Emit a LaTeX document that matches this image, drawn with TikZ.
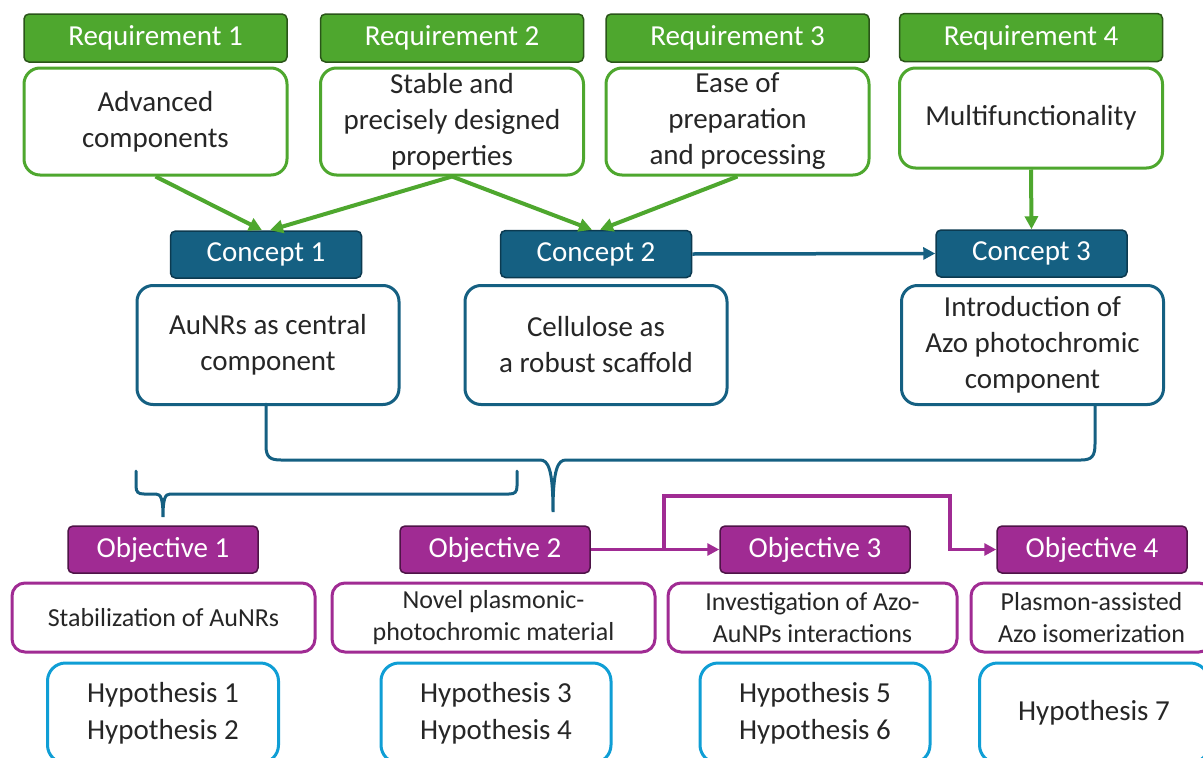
\documentclass[tikz,border=0pt]{standalone}
\usepackage{fontspec}
\setmainfont{Carlito}
\usetikzlibrary{arrows.meta}
\definecolor{reqgreen}{HTML}{4EA72E}
\definecolor{reqdark}{HTML}{2A5519}
\definecolor{conblue}{HTML}{156082}
\definecolor{condark}{HTML}{0C3A50}
\definecolor{objpurple}{HTML}{A02B93}
\definecolor{objdark}{HTML}{4E1447}
\definecolor{hypblue}{HTML}{0F9ED5}
\definecolor{txtgray}{HTML}{262626}
\tikzset{
  head/.style={rounded corners=5pt, line width=1.5pt, text=white, inner sep=0pt,
    minimum height=47pt, font=\fontsize{29}{36}\selectfont},
  reqhead/.style={head, fill=reqgreen, draw=reqdark, minimum width=263pt, minimum height=48pt},
  conhead/.style={head, fill=conblue, draw=condark, minimum width=191pt},
  objhead/.style={head, fill=objpurple, draw=objdark, minimum width=190pt},
  textbox/.style={rounded corners=16pt, line width=3pt, fill=white, inner sep=0pt, align=center,
    text=txtgray, font=\fontsize{29}{36}\selectfont},
  reqbox/.style={textbox, draw=reqgreen, minimum width=263pt, minimum height=107pt},
  conbox/.style={textbox, draw=conblue, minimum width=262pt, minimum height=119pt},
  objbox/.style={textbox, draw=objpurple, rounded corners=13pt, minimum height=69pt,
    font=\fontsize{26}{32}\selectfont},
  hypbox/.style={textbox, draw=hypblue, rounded corners=18pt, minimum height=100pt,
    font=\fontsize{29}{37}\selectfont},
  reqarrow/.style={draw=reqgreen, line width=4pt, -{Triangle[length=13pt,width=13pt]}},
  conarrow/.style={draw=conblue, line width=3.5pt, -{Triangle[length=12pt,width=12pt]}},
  objarrow/.style={draw=objpurple, line width=3.5pt, -{Triangle[length=12pt,width=12pt]}},
  brace/.style={draw=conblue, line width=3pt, line cap=round}
}
\begin{document}
\begin{tikzpicture}[x=1pt,y=-1pt]
\useasboundingbox (0,0) rectangle (1203,758);
\clip (0,0) rectangle (1203,758);

\node[reqhead] (r1) at (155.5,38) {Requirement 1};
\node[reqhead] (r2) at (452,38) {Requirement 2};
\node[reqhead] (r3) at (737.5,38) {Requirement 3};
\node[reqhead] (r4) at (1031,37.5) {Requirement 4};
\node[reqbox] (r1box) at (155.5,121.5) {Advanced\\components};
\node[reqbox] (r2box) at (452,121.5) {Stable and\\precisely designed\\properties};
\node[reqbox] (r3box) at (737.5,121.5) {Ease of\\preparation\\and processing};
\node[reqbox, minimum height=100pt] (r4box) at (1031,118) {Multifunctionality};

\node[conhead] (c1) at (266,254.5) {Concept 1};
\node[conhead] (c2) at (596,254) {Concept 2};
\node[conhead] (c3) at (1031.5,253.5) {Concept 3};
\node[conbox] (c1box) at (268,345) {AuNRs as central\\component};
\node[conbox] (c2box) at (596,345) {Cellulose as\\a robust scaffold};
\node[conbox] (c3box) at (1032.5,345) {Introduction of\\Azo photochromic\\component};

\node[objhead] (o1) at (163,549.5) {Objective 1};
\node[objhead] (o2) at (495,549.5) {Objective 2};
\node[objhead] (o3) at (815,549.5) {Objective 3};
\node[objhead] (o4) at (1092,549.5) {Objective 4};
\node[objbox, minimum width=303pt] (o1box) at (163.5,617.5) {Stabilization of AuNRs};
\node[objbox, minimum width=323pt] (o2box) at (493.5,617.5) {Novel plasmonic-\\photochromic material};
\node[objbox, minimum width=289pt] (o3box) at (812.5,617.5) {Investigation of Azo-\\AuNPs interactions};
\node[objbox, minimum width=241pt] (o4box) at (1091.5,617.5) {Plasmon-assisted\\Azo isomerization};

\node[hypbox, minimum width=231pt] (h1) at (163,713) {Hypothesis 1\\Hypothesis 2};
\node[hypbox, minimum width=230pt] (h2) at (496,713) {Hypothesis 3\\Hypothesis 4};
\node[hypbox, minimum width=230pt] (h3) at (815,713) {Hypothesis 5\\Hypothesis 6};
\node[hypbox, minimum width=229pt] (h4) at (1094,713) {Hypothesis 7};

\draw[reqarrow] (r1box.south) -- ([xshift=-4pt]c1.north);
\draw[reqarrow] (r2box.south) -- ([xshift=4pt]c1.north);
\draw[reqarrow] (r2box.south) -- ([xshift=-4pt]c2.north);
\draw[reqarrow] (r3box.south) -- ([xshift=4pt]c2.north);
\draw[reqarrow] (r4box.south) -- (c3.north);
\draw[conarrow] (c2.east) -- (c3.west);

\coordinate (bl) at (266,404);
\coordinate (br) at (1095,405);
\coordinate (btip) at (553,512);
\draw[brace] (bl) -- (266,446) .. controls (266,457) and (270,460) .. (281,460)
  -- (540,460) .. controls (548,460) and (553,468) .. (btip)
  .. controls (553,468) and (558,460) .. (566,460)
  -- (1081,460) .. controls (1092,460) and (1095,456) .. (1095,444) -- (br);

\coordinate (sl) at (136,471);
\coordinate (sr) at (517,471);
\coordinate (stip) at (163,517);
\draw[brace] (sl) -- (136,486) .. controls (136,492) and (138,494) .. (144,494)
  -- (156,494) .. controls (161,494) and (163,499) .. (stip)
  .. controls (163,499) and (165,494) .. (170,494)
  -- (509,494) .. controls (515,494) and (517,492) .. (517,486) -- (sr);

\coordinate (fork) at (664,549.5);
\coordinate (bend) at (950,496);
\draw[objarrow] (o2.east) -- (o3.west);
\draw[objarrow] (fork) |- (bend) -- (bend |- o4.west) -- (o4.west);
\end{tikzpicture}
\end{document}
